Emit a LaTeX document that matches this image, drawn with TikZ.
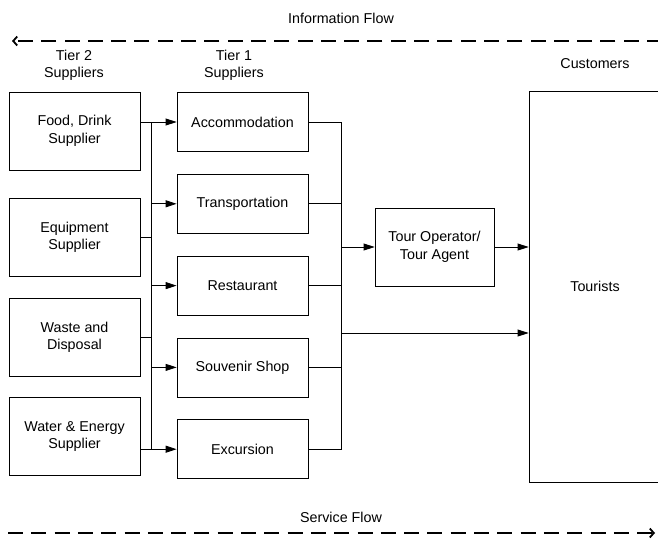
\documentclass[tikz,border=0pt]{standalone}
\usepackage{fontspec}
\setmainfont{Liberation Sans}
\usetikzlibrary{positioning,arrows.meta}

\begin{document}
\begin{tikzpicture}[x=1pt,y=-1pt,font=\fontsize{14.3}{17.5}\selectfont,
  box/.style={draw,line width=0.8pt,align=center,inner sep=0pt},
  tiertwo/.style={box,minimum width=131pt,minimum height=78pt},
  tierone/.style={box,minimum width=131pt,minimum height=59pt},
  line/.style={-{Triangle[length=11pt,width=7pt]},line width=0.8pt},
  wire/.style={line width=0.8pt},
  flow/.style={line width=1.8pt,dash pattern=on 15pt off 8.3pt,-{Straight Barb[length=4pt,width=9pt]}},
  lbl/.style={align=center,inner sep=0pt}]
\useasboundingbox (0,0) rectangle (658,538);
% headings
\node[lbl] (info) at (341,18) {Information Flow};
\node[lbl] (serv) at (341,517) {Service Flow};
\node[lbl] (tier2) at (74,65.5) {Tier 2\\Suppliers};
\node[lbl] (tier1) at (234,65.5) {Tier 1\\Suppliers};
\node[lbl] (cust) at (595,64) {Customers};
% tier 2 suppliers
\node[tiertwo] (food) at (74.5,131) {Food, Drink\\Supplier};
\node[tiertwo] (equip) at (74.5,237.5) {Equipment\\Supplier};
\node[tiertwo] (waste) at (74.5,337.5) {Waste and\\Disposal};
\node[tiertwo] (water) at (74.5,436.5) {Water \& Energy\\Supplier};
% tier 1 suppliers
\node[tierone] (acc) at (242.5,122) {Accommodation};
\node[tierone,below=22pt of acc] (trans) {Transportation};
\node[tierone,below=22pt of trans] (rest) {Restaurant};
\node[tierone,below=22pt of rest] (shop) {Souvenir Shop};
\node[tierone,below=22pt of shop] (exc) {Excursion};
% operator and customers
\node[box,minimum width=119pt,minimum height=78pt] (oper) at (434.5,247) {Tour Operator/\\Tour Agent};
\node[box,minimum width=132pt,minimum height=391pt] (tour) at (595,286.5) {Tourists};
\coordinate (busl) at (151,0);
\coordinate (busr) at (341,0);
\coordinate (direct) at (341,333);
\coordinate (infoend) at (662,41);
\coordinate (servstart) at (8,533);
% connectors
\draw[wire] (busl |- acc) -- (busl |- exc);
\draw[line] (food.east |- acc) -- (acc);\draw[line] (water.east |- exc) -- (exc);
\draw[wire] (equip) -- (busl |- equip);\draw[wire] (waste) -- (busl |- waste);
\draw[line] (busl |- trans) -- (trans);\draw[line] (busl |- rest) -- (rest);\draw[line] (busl |- shop) -- (shop);
\draw[wire] (acc) -| (busr |- exc) -- (exc);
\draw[wire] (trans) -- (busr |- trans);\draw[wire] (rest) -- (busr |- rest);\draw[wire] (shop) -- (busr |- shop);
\draw[line] (busr |- oper) -- (oper);\draw[line] (oper) -- (tour.west |- oper);
\draw[line] (direct) -- (tour.west |- direct);
% flows
\draw[flow] (infoend) -- (12,41);
\draw[flow] (servstart) -- (655,533);
\end{tikzpicture}
\end{document}
